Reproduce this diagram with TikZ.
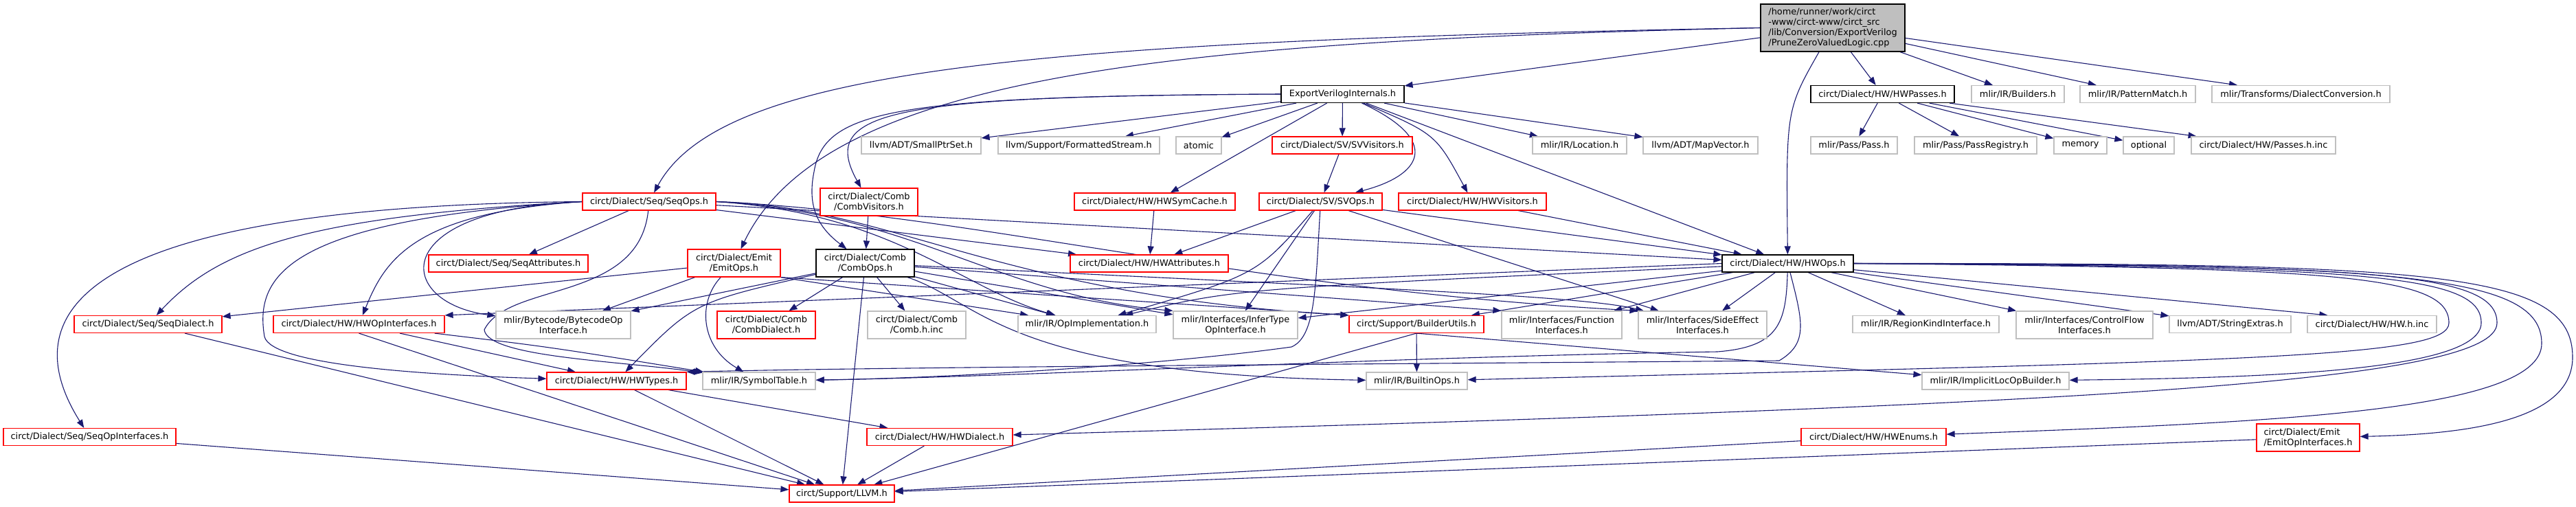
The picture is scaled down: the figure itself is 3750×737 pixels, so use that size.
\documentclass[tikz,border=0pt]{standalone}
\usepackage{fontspec}
\setmainfont{DejaVu Sans}
\usetikzlibrary{arrows.meta,backgrounds}
\definecolor{edgeblue}{HTML}{191970}
\definecolor{leafgray}{HTML}{BFBFBF}
\begin{document}
\begin{tikzpicture}[x=1pt, y=-1pt,
	every node/.style={draw, fill=white, line width=1.2pt, inner sep=0pt, minimum height=25, align=center, font=\fontsize{12.9}{15}\selectfont},
	rootbox/.style={draw=black, fill=leafgray, minimum height=69, align=left},
	blk/.style={draw=black},
	trunc/.style={draw=red},
	leaf/.style={draw=leafgray},
	two/.style={minimum height=40},
	dep/.style={draw=edgeblue, line width=1.1pt, -{Triangle[length=12pt,width=9pt]}}]

	\useasboundingbox (0,0) rectangle (3750,737);

	\node[rootbox, minimum width=210] (root) at (2668, 40.5) {/home/runner/work/circt\\-www/circt-www/circt\_src\\/lib/Conversion/ExportVerilog\\/PruneZeroValuedLogic.cpp};

	\node[blk, minimum width=179] (evi) at (1954.5, 137) {ExportVerilogInternals.h};
	\node[blk, minimum width=209] (hwpasses) at (2740.5, 137) {circt/Dialect/HW/HWPasses.h};
	\node[leaf, minimum width=135] (builders) at (2937.5, 137) {mlir/IR/Builders.h};
	\node[leaf, minimum width=168] (patmatch) at (3112, 137) {mlir/IR/PatternMatch.h};
	\node[leaf, minimum width=259] (dialconv) at (3349.5, 137) {mlir/Transforms/DialectConversion.h};

	\node[leaf, minimum width=174] (smallptr) at (1341, 211.5) {llvm/ADT/SmallPtrSet.h};
	\node[leaf, minimum width=235] (formatted) at (1570.5, 211.5) {llvm/Support/FormattedStream.h};
	\node[leaf, minimum width=66] (atomic) at (1745, 211.5) {atomic};
	\node[trunc, minimum width=204] (svvis) at (1954, 211.5) {circt/Dialect/SV/SVVisitors.h};
	\node[leaf, minimum width=137] (location) at (2299.5, 211.5) {mlir/IR/Location.h};
	\node[leaf, minimum width=167] (mapvec) at (2475.5, 211.5) {llvm/ADT/MapVector.h};
	\node[leaf, minimum width=126] (pass) at (2699, 211.5) {mlir/Pass/Pass.h};
	\node[leaf, minimum width=178] (passreg) at (2876, 211.5) {mlir/Pass/PassRegistry.h};
	\node[leaf, minimum width=77] (memory) at (3028.5, 211.5) {memory};
	\node[leaf, minimum width=74] (optional) at (3128, 211.5) {optional};
	\node[leaf, minimum width=210] (passinc) at (3295, 211.5) {circt/Dialect/HW/Passes.h.inc};

	\node[trunc, minimum width=194] (seqops) at (945, 293.5) {circt/Dialect/Seq/SeqOps.h};
	\node[trunc, two, minimum width=142] (combvis) at (1265, 294) {circt/Dialect/Comb\\/CombVisitors.h};
	\node[trunc, minimum width=234] (hwsym) at (1681, 293.5) {circt/Dialect/HW/HWSymCache.h};
	\node[trunc, minimum width=179] (svops) at (1922.5, 293.5) {circt/Dialect/SV/SVOps.h};
	\node[trunc, minimum width=215] (hwvis) at (2143.5, 293.5) {circt/Dialect/HW/HWVisitors.h};

	\node[trunc, minimum width=232] (seqattr) at (740, 383.5) {circt/Dialect/Seq/SeqAttributes.h};
	\node[trunc, two, minimum width=135] (emitops) at (1068.5, 383) {circt/Dialect/Emit\\/EmitOps.h};
	\node[blk, two, minimum width=143] (combops) at (1259.5, 383) {circt/Dialect/Comb\\/CombOps.h};
	\node[trunc, minimum width=230] (hwattr) at (1673, 383.5) {circt/Dialect/HW/HWAttributes.h};
	\node[blk, minimum width=191] (hwops) at (2602.5, 383.5) {circt/Dialect/HW/HWOps.h};

	\node[trunc, minimum width=215] (seqdial) at (215.5, 472) {circt/Dialect/Seq/SeqDialect.h};
	\node[trunc, minimum width=249] (hwopif) at (522.5, 472) {circt/Dialect/HW/HWOpInterfaces.h};
	\node[leaf, two, minimum width=196] (bytecode) at (820, 473) {mlir/Bytecode/BytecodeOp\\Interface.h};
	\node[trunc, two, minimum width=143] (combdial) at (1115.5, 473) {circt/Dialect/Comb\\/CombDialect.h};
	\node[leaf, two, minimum width=143] (combinc) at (1334.5, 473) {circt/Dialect/Comb\\/Comb.h.inc};
	\node[leaf, minimum width=201] (opimpl) at (1582.5, 472) {mlir/IR/OpImplementation.h};
	\node[leaf, two, minimum width=181] (infertype) at (1798.5, 473) {mlir/Interfaces/InferType\\OpInterface.h};
	\node[trunc, minimum width=196] (builder) at (2062, 472) {circt/Support/BuilderUtils.h};
	\node[leaf, two, minimum width=175] (funcif) at (2273.5, 473) {mlir/Interfaces/Function\\Interfaces.h};
	\node[leaf, two, minimum width=187] (sideeffect) at (2478.5, 473) {mlir/Interfaces/SideEffect\\Interfaces.h};
	\node[leaf, minimum width=213] (regionkind) at (2803.5, 472) {mlir/IR/RegionKindInterface.h};
	\node[leaf, two, minimum width=199] (controlflow) at (3034.5, 473) {mlir/Interfaces/ControlFlow\\Interfaces.h};
	\node[leaf, minimum width=177] (strext) at (3246.5, 472) {llvm/ADT/StringExtras.h};
	\node[leaf, minimum width=188] (hwinc) at (3453, 472) {circt/Dialect/HW/HW.h.inc};

	\node[trunc, minimum width=203] (hwtypes) at (897.5, 554.5) {circt/Dialect/HW/HWTypes.h};
	\node[leaf, minimum width=164] (symtab) at (1105, 554.5) {mlir/IR/SymbolTable.h};
	\node[leaf, minimum width=147] (builtin) at (2062.5, 554.5) {mlir/IR/BuiltinOps.h};
	\node[leaf, minimum width=214] (implicitloc) at (2905, 554.5) {mlir/IR/ImplicitLocOpBuilder.h};

	\node[trunc, minimum width=251] (seqopif) at (130.5, 636) {circt/Dialect/Seq/SeqOpInterfaces.h};
	\node[trunc, minimum width=212] (hwdial) at (1368, 636) {circt/Dialect/HW/HWDialect.h};
	\node[trunc, minimum width=211] (hwenums) at (2727.5, 636) {circt/Dialect/HW/HWEnums.h};
	\node[trunc, two, minimum width=150, align=left] (emitopif) at (3360, 637) {circt/Dialect/Emit\\/EmitOpInterfaces.h};

	\node[trunc, minimum width=153] (llvm) at (1225.5, 718.5) {circt/Support/LLVM.h};

	\begin{scope}[on background layer]
	% the .cpp file
	\draw[dep] (root) -- (evi);
	\draw[dep] (root) -- (hwpasses);
	\draw[dep] (root) -- (builders);
	\draw[dep] (root) -- (patmatch);
	\draw[dep] (root) -- (dialconv);
	\draw[dep] (root) .. controls (2600,160) .. (hwops);
	\draw[dep] (root.west) .. controls (1500,60) and (1050,100) .. (seqops);
	\draw[dep] (root.west) .. controls (1700,60) and (1200,110) .. (emitops);

	% ExportVerilogInternals.h
	\draw[dep] (evi) -- (smallptr);
	\draw[dep] (evi) -- (formatted);
	\draw[dep] (evi) -- (atomic);
	\draw[dep] (evi) -- (svvis);
	\draw[dep] (evi) -- (location);
	\draw[dep] (evi) -- (mapvec);
	\draw[dep] (evi) -- (hwsym);
	\draw[dep] (evi) -- (hwops);
	\draw[dep] (evi) .. controls (2090,195) .. (hwvis);
	\draw[dep] (evi) .. controls (2100,205) and (2070,255) .. (svops);
	\draw[dep] (evi.west) .. controls (1300,140) and (1190,160) .. (combvis);
	\draw[dep] (evi.west) .. controls (1300,140) and (1200,160) .. (1185,250) .. controls (1175,300) and (1190,330) .. (combops);

	% HWPasses.h
	\draw[dep] (hwpasses) -- (pass);
	\draw[dep] (hwpasses) -- (passreg);
	\draw[dep] (hwpasses) -- (memory);
	\draw[dep] (hwpasses) -- (optional);
	\draw[dep] (hwpasses) -- (passinc);

	\draw[dep] (svvis) -- (svops);
	\draw[dep] (combvis) -- (combops);
	\draw[dep] (hwsym) -- (hwattr);
	\draw[dep] (hwvis) -- (hwops);

	% SVOps.h
	\draw[dep] (svops) -- (hwattr);
	\draw[dep] (svops) -- (hwops);
	\draw[dep] (svops) .. controls (1830,400) .. (opimpl);
	\draw[dep] (svops) -- (infertype);
	\draw[dep] (svops) -- (sideeffect);
	\draw[dep] (svops) .. controls (1915,420) and (1915,490) .. (1880,505) .. controls (1700,530) and (1400,550) .. (symtab);

	% SeqOps.h
	\draw[dep] (seqops) -- (seqattr);
	\draw[dep] (seqops.west) .. controls (100,300) and (20,460) .. (seqopif);
	\draw[dep] (seqops.west) .. controls (450,315) and (320,360) .. (seqdial);
	\draw[dep] (seqops.west) .. controls (420,320) and (370,400) .. (385,490) .. controls (395,530) and (600,545) .. (hwtypes);
	\draw[dep] (seqops.west) .. controls (600,310) and (560,380) .. (hwopif);
	\draw[dep] (seqops.west) .. controls (560,305) and (575,440) .. (bytecode);
	\draw[dep] (seqops) .. controls (930,440) and (740,410) .. (705,480) .. controls (710,520) and (900,525) .. (symtab);
	\draw[dep] (seqops) -- (hwattr);
	\draw[dep] (seqops) -- (hwops);
	\draw[dep] (seqops.east) .. controls (1300,310) and (1400,420) .. (opimpl);
	\draw[dep] (seqops.east) .. controls (1330,310) and (1450,430) .. (infertype.north west);
	\draw[dep] (seqops.east) .. controls (1300,300) and (1450,430) .. (builder.north west);
	\draw[dep] (seqops.east) .. controls (1410,310) and (1800,420) .. (sideeffect.north west);

	% EmitOps.h
	\draw[dep] (emitops) -- (seqdial);
	\draw[dep] (emitops) -- (bytecode);
	\draw[dep] (emitops) .. controls (1015,440) and (1020,505) .. (symtab);
	\draw[dep] (emitops.south east) -- (opimpl);
	\draw[dep] (emitops.south east) -- (builder.north west);

	% CombOps.h
	\draw[dep] (combops) -- (combdial);
	\draw[dep] (combops) -- (combinc);
	\draw[dep] (combops) -- (llvm);
	\draw[dep] (combops) -- (bytecode);
	\draw[dep] (combops) .. controls (1010,440) .. (hwtypes);
	\draw[dep] (combops) -- (opimpl);
	\draw[dep] (combops) -- (infertype);
	\draw[dep] (combops) -- (funcif.north west);
	\draw[dep] (combops) .. controls (2000,420) and (2300,430) .. (sideeffect);
	\draw[dep] (combops) .. controls (1430,440) and (1460,545) .. (builtin);

	% HWOps.h
	\draw[dep] (hwops.west) -- (hwopif.north east);
	\draw[dep] (hwops) .. controls (1800,420) .. (opimpl);
	\draw[dep] (hwops) -- (infertype);
	\draw[dep] (hwops) -- (builder);
	\draw[dep] (hwops) -- (funcif);
	\draw[dep] (hwops) -- (sideeffect);
	\draw[dep] (hwops) -- (regionkind);
	\draw[dep] (hwops) -- (controlflow);
	\draw[dep] (hwops) -- (strext);
	\draw[dep] (hwops) -- ([xshift=30pt]hwinc.north west);
	\draw[dep] (hwops) .. controls (2600,470) and (2590,505) .. (2500,512) .. controls (2000,520) and (1500,548) .. (symtab);
	\draw[dep] (hwops) .. controls (2625,470) and (2632,500) .. (2590,525) .. controls (2000,530) and (1300,534) .. (hwtypes.north east);
	\draw[dep] (hwops.east) .. controls (3400,390) and (3565,400) .. (3565,470) .. controls (3565,520) and (3300,525) .. (builtin);
	\draw[dep] (hwops.east) .. controls (3450,388) and (3612,400) .. (3612,470) .. controls (3612,540) and (3300,550) .. (implicitloc);
	\draw[dep] (hwops.east) .. controls (3450,386) and (3635,395) .. (3635,470) .. controls (3635,560) and (3000,590) .. (hwdial);
	\draw[dep] (hwops.east) .. controls (3500,384) and (3700,400) .. (3700,500) .. controls (3700,600) and (3300,615) .. (hwenums);
	\draw[dep] (hwops.east) .. controls (3550,383) and (3745,395) .. (3745,520) .. controls (3745,610) and (3600,632) .. (emitopif);

	% lower levels
	\draw[dep] (hwopif) -- (hwtypes);
	\draw[dep] (hwopif.south) -- (llvm);
	\draw[dep] (hwopif) .. controls (800,505) .. (symtab);
	\draw[dep] (hwtypes) -- (hwdial);
	\draw[dep] (hwtypes) -- (llvm);
	\draw[dep] (hwdial) -- (llvm);
	\draw[dep] (seqdial) -- (llvm);
	\draw[dep] (seqopif) -- (llvm);
	\draw[dep] (builder) -- (builtin);
	\draw[dep] (builder.south) -- (llvm);
	\draw[dep] (builder.south) -- (implicitloc);
	\draw[dep] (hwenums) -- (llvm);
	\draw[dep] (emitopif) -- (llvm);
	\end{scope}
\end{tikzpicture}
\end{document}
